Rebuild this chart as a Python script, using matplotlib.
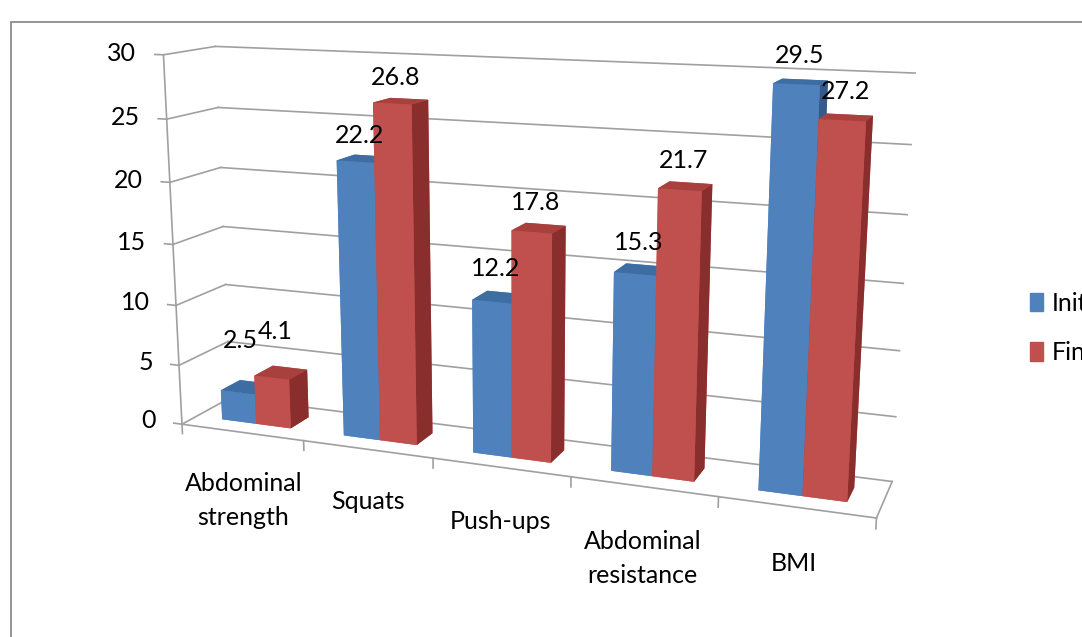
import matplotlib
matplotlib.use("Agg")
import matplotlib.pyplot as plt
import numpy as np
from matplotlib.patches import Patch, Rectangle

plt.rcParams['font.family'] = ['Lato', 'DejaVu Sans']

categories = ['Abdominal\nstrength', 'Squats', 'Push-ups', 'Abdominal\nresistance', 'BMI']
initial = [2.5, 22.2, 12.2, 15.3, 29.5]
final = [4.1, 26.8, 17.8, 21.7, 27.2]
series_names = ['Initial', 'Final']
yticks = [0, 5, 10, 15, 20, 25, 30]

# face colours: bottom, top, front, back, left, right
blue_faces = ['#4F81BD', '#3E6DA3', '#4F81BD', '#4F81BD', '#4F81BD', '#35598A']
red_faces = ['#C0504D', '#A8403D', '#C0504D', '#C0504D', '#C0504D', '#8A2E2D']

fig = plt.figure(figsize=(10.82, 6.37), dpi=100)
# square axes box, large enough so the 3D scene is not clipped
ax = fig.add_axes([0.081, -0.090, 0.776, 1.319], projection='3d')
ax.set_proj_type('persp', focal_length=0.35)
ax.view_init(elev=13, azim=-69)
ax.set_axis_off()

n = len(categories)
w = 1 / 3.5
depth = 2.5 * w
y0 = 0.75 * w
zmax = 30

ax.set_xlim(0, n)
ax.set_ylim(0, depth)
ax.set_zlim(0, zmax)
ax.set_box_aspect((7.42, 1.0, 3.98), zoom=0.98)

grid_kw = dict(color='#a0a0a0', lw=1.2)
for t in yticks:
    # back wall and left wall lines
    ax.plot([0, n], [depth, depth], [t, t], **grid_kw)
    ax.plot([0, 0], [0, depth], [t, t], **grid_kw)
    ax.plot([0, -0.07], [0, 0], [t, t], **grid_kw)
    ax.text(-0.22, 0, t, str(t), ha='right', va='center', fontsize=18)
# value axis line
ax.plot([0, 0], [0, 0], [0, zmax], **grid_kw)
# floor edges
ax.plot([0, n], [0, 0], [0, 0], **grid_kw)
ax.plot([n, n], [0, depth], [0, 0], **grid_kw)
for i in range(n + 1):
    ax.plot([i, i], [0, 0], [0, -0.8], **grid_kw)

xs, ys, zs, dxs, dys, dzs, cols = [], [], [], [], [], [], []
for i in range(n):
    for k, (vals, fc) in enumerate([(initial, blue_faces), (final, red_faces)]):
        xs.append(i + 0.75 * w + k * w)
        ys.append(y0)
        zs.append(0)
        dxs.append(w)
        dys.append(w)
        dzs.append(vals[i])
        cols.extend(fc)
ax.bar3d(xs, ys, zs, dxs, dys, dzs, color=cols, shade=False, edgecolor='none')

for i in range(n):
    for k, vals in enumerate([initial, final]):
        xc = i + 0.75 * w + k * w + w / 2
        # labels on short bars sit a little higher above the top
        lift = 1.8 + 3.4 * np.exp(-vals[i] / 7)
        ax.text(xc, y0 + w / 4, vals[i] + lift, f'{vals[i]:.1f}', ha='center', va='center', fontsize=18)
    ax.text(i + 0.5, 0, -3.4, categories[i], ha='center', va='top', fontsize=18, linespacing=1.55)

handles = [Patch(color=blue_faces[2]), Patch(color=red_faces[2])]
fig.legend(handles, series_names, loc='center left', bbox_to_anchor=(1007 / 1082, 1 - 328 / 637),
           frameon=False, fontsize=18, handlelength=0.55, handleheight=0.75, labelspacing=1.05,
           handletextpad=0.35)

fig.add_artist(Rectangle((11 / 1082, -0.1), 2, 1.1 - 22 / 637, transform=fig.transFigure,
                         fill=False, ec='#8c8c8c', lw=1.3))

fig.savefig('out.png', dpi=100)
